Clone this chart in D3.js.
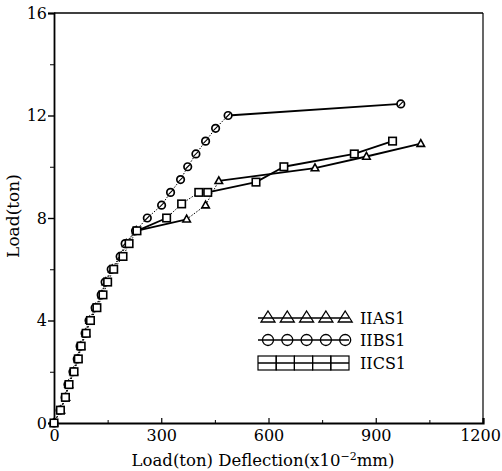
<!DOCTYPE html>
<html><head><meta charset="utf-8">
<script src="https://cdn.jsdelivr.net/npm/d3@7"></script>
<style>body{margin:0;background:#fff}svg{display:block}</style>
</head><body>
<script>
const xTicks = [0, 300, 600, 900, 1200];
const yTicks = [0, 4, 8, 12, 16];
const seriesNames = ["IIAS1", "IIBS1", "IICS1"];
const symbols = ["triangle", "circle", "square"];
const xIIAS1 = [0, 19, 33, 41, 55, 67, 75, 89, 100, 117, 134, 145, 163, 188, 202, 230, 371, 424, 461, 730, 874, 1026];
const yIIAS1 = [0, 0.5, 1.0, 1.5, 2.0, 2.5, 3.0, 3.5, 4.0, 4.5, 5.0, 5.5, 6.0, 6.5, 7.0, 7.5, 7.95, 8.5, 9.45, 9.95, 10.4, 10.9];
const xIIBS1 = [0, 17, 31, 39, 53, 65, 73, 87, 98, 115, 132, 143, 160, 185, 199, 228, 261, 301, 326, 354, 374, 397, 424, 452, 487, 970];
const yIIBS1 = [0, 0.5, 1.0, 1.5, 2.0, 2.5, 3.0, 3.5, 4.0, 4.5, 5.0, 5.5, 6.0, 6.5, 7.0, 7.5, 8.0, 8.5, 9.0, 9.5, 10.0, 10.5, 11.0, 11.5, 12.0, 12.45];
const xIICS1 = [0, 18, 32, 42, 56, 68, 76, 90, 102, 120, 137, 150, 167, 193, 210, 232, 315, 357, 405, 430, 565, 643, 840, 947];
const yIICS1 = [0, 0.5, 1.0, 1.5, 2.0, 2.5, 3.0, 3.5, 4.0, 4.5, 5.0, 5.5, 6.0, 6.5, 7.0, 7.5, 8.0, 8.55, 9.0, 9.0, 9.4, 10.0, 10.5, 11.0];

const W = 502, H = 471;
const svg = d3.select("body").append("svg").attr("width", W).attr("height", H);
const x = d3.scaleLinear().domain([0, 1200]).range([54, 483]);
const y = d3.scaleLinear().domain([0, 16]).range([423, 13]);
const font = "'DejaVu Serif', 'Liberation Serif', serif";

// frame
svg.append("line").attr("x1", x(0)).attr("x2", x(1200)).attr("y1", y(16)).attr("y2", y(16)).attr("stroke", "#000").attr("stroke-width", 1.6);
svg.append("line").attr("x1", x(1200)).attr("x2", x(1200)).attr("y1", y(16)).attr("y2", y(0)).attr("stroke", "#000").attr("stroke-width", 1.2);

// y axis
const yAxis = d3.axisLeft(y).tickValues(yTicks).tickSize(6).tickPadding(1).tickFormat(d3.format("d"));
const gy = svg.append("g").attr("transform", `translate(${x(0)},0)`).call(yAxis);
gy.select(".domain").attr("stroke-width", 1.8);
gy.selectAll(".tick line").attr("stroke-width", 1.4);
gy.selectAll("text").attr("font-family", font).attr("font-size", 16).attr("fill", "#000");
const yMinor = d3.axisLeft(y).tickValues([2, 6, 10, 14]).tickSize(4).tickFormat("");
svg.append("g").attr("transform", `translate(${x(0)},0)`).call(yMinor).select(".domain").remove();

// x axis
const xAxis = d3.axisBottom(x).tickValues(xTicks).tickSize(-5).tickPadding(7).tickFormat(d3.format("d"));
const gx = svg.append("g").attr("transform", `translate(0,${y(0)})`).call(xAxis);
gx.select(".domain").attr("stroke-width", 2.2);
gx.selectAll(".tick line").attr("stroke-width", 1.2);
gx.selectAll("text").attr("font-family", font).attr("font-size", 16).attr("fill", "#000")
  .attr("dx", d => d === 1200 ? -3 : 0);
const xMinor = d3.axisBottom(x).tickValues([150, 450, 750, 1050]).tickSize(-3).tickFormat("");
svg.append("g").attr("transform", `translate(0,${y(0)})`).call(xMinor).select(".domain").remove();

// axis titles
svg.append("text").attr("transform", `translate(19,216) rotate(-90)`).attr("text-anchor", "middle")
  .attr("font-family", font).attr("font-size", 17).text("Load(ton)");
const xt = svg.append("text").attr("x", 263).attr("y", 466).attr("text-anchor", "middle")
  .attr("font-family", font).attr("font-size", 16.5);
xt.append("tspan").text("Load(ton) Deflection(x10");
xt.append("tspan").attr("dy", -6).attr("font-size", 11).text("−2");
xt.append("tspan").attr("dy", 6).text("mm)");

// series
const data = [
  d3.zip(xIIAS1, yIIAS1),
  d3.zip(xIIBS1, yIIBS1),
  d3.zip(xIICS1, yIICS1)
];

function drawMarker(g, type, cx, cy, s) {
  if (type === "triangle") {
    const h = s * 0.9;
    g.append("path").attr("d", `M${cx},${cy - h * 0.6}L${cx + s / 2},${cy + h * 0.4}L${cx - s / 2},${cy + h * 0.4}Z`)
      .attr("fill", "#fff").attr("stroke", "#000").attr("stroke-width", 1.6);
  } else if (type === "circle") {
    g.append("circle").attr("cx", cx).attr("cy", cy).attr("r", s / 2)
      .attr("fill", "#fff").attr("stroke", "#000").attr("stroke-width", 1.7);
    g.append("line").attr("x1", cx - s * 0.3).attr("y1", cy + s * 0.3).attr("x2", cx + s * 0.3).attr("y2", cy - s * 0.3)
      .attr("stroke", "#000").attr("stroke-width", 1.1);
  } else {
    g.append("rect").attr("x", cx - s / 2).attr("y", cy - s / 2).attr("width", s).attr("height", s)
      .attr("fill", "#fff").attr("stroke", "#000").attr("stroke-width", 1.6);
  }
}

data.forEach((pts, i) => {
  const g = svg.append("g");
  for (let k = 1; k < pts.length; k++) {
    const x1 = x(pts[k - 1][0]), y1 = y(pts[k - 1][1]), x2 = x(pts[k][0]), y2 = y(pts[k][1]);
    const len = Math.hypot(x2 - x1, y2 - y1);
    const seg = g.append("line").attr("x1", x1).attr("y1", y1).attr("x2", x2).attr("y2", y2).attr("stroke", "#000");
    if (len > 30) seg.attr("stroke-width", 1.8);
    else seg.attr("stroke-width", 1).attr("stroke-dasharray", "1.5,1.5");
  }
  pts.forEach(p => drawMarker(g, symbols[i], x(p[0]), y(p[1]), 7.5));
});

// legend
const legY = [318, 340, 363];
const legX0 = 258, legX1 = 349;
seriesNames.forEach((name, i) => {
  const g = svg.append("g");
  g.append("line").attr("x1", legX0).attr("x2", legX1).attr("y1", legY[i]).attr("y2", legY[i]).attr("stroke", "#000").attr("stroke-width", 1.3);
  const n = 5;
  for (let k = 0; k < n; k++) {
    if (symbols[i] === "square") {
      const w = (legX1 - legX0) / n;
      g.append("rect").attr("x", legX0 + k * w).attr("y", legY[i] - 7).attr("width", w).attr("height", 14)
        .attr("fill", "none").attr("stroke", "#000").attr("stroke-width", 1.2);
    } else if (symbols[i] === "triangle") {
      const cx = 268 + k * 19.3, cy = legY[i];
      g.append("path").attr("d", `M${cx},${cy - 7}L${cx + 7},${cy + 4}L${cx - 7},${cy + 4}Z`)
        .attr("fill", "none").attr("stroke", "#000").attr("stroke-width", 1.3);
    } else {
      const cx = 268 + k * 19.3, cy = legY[i];
      g.append("circle").attr("cx", cx).attr("cy", cy).attr("r", 5.5)
        .attr("fill", "none").attr("stroke", "#000").attr("stroke-width", 1.3);
    }
  }
  g.append("text").attr("x", 360).attr("y", legY[i] + 6).attr("font-family", font).attr("font-size", 16).text(name);
});
</script>
</body></html>
